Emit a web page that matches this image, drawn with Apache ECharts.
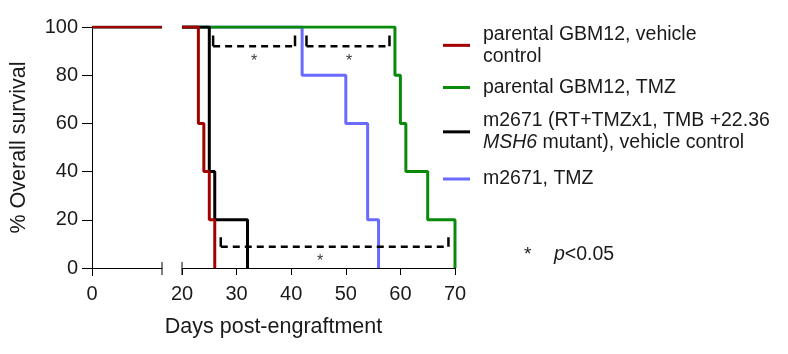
<!DOCTYPE html>
<html>
<head>
<meta charset="utf-8">
<script src="https://cdn.jsdelivr.net/npm/echarts@6/dist/echarts.min.js"></script>
<style>
    html, body { margin: 0; padding: 0; background: #fff; }
    #main { width: 788px; height: 354px; }
</style>
</head>
<body>
<div id="main"></div>
<script>
    var FONT = 'Liberation Sans, Arial, sans-serif';
    var TXT = '#1a1a1a';

    var names = [
        'parental GBM12, vehicle control',
        'parental GBM12, TMZ',
        'm2671 (RT+TMZx1, TMB +22.36 MSH6 mutant), vehicle control',
        'm2671, TMZ'
    ];
    var colors = ['#a30000', '#0a8a0a', '#000000', '#6a6aff'];

    // Kaplan-Meier steps [day, % survival], right segment (20-70)
    var parentalVehicle = [[20, 100], [23, 60], [24, 40], [25, 20], [26, 0]];
    var parentalTMZ     = [[20, 100], [59, 80], [60, 60], [61, 40], [65, 20], [70, 0]];
    var mutantVehicle   = [[20, 100], [25, 40], [26, 20], [32, 0]];
    var mutantTMZ       = [[20, 100], [42, 80], [50, 60], [54, 20], [56, 0]];
    // left segment, everyone alive
    var earlyDays = [0, 13];
    var earlySurvival = [100, 100];

    // significance brackets: [x start, x end, y of dashed line, y of cap end]
    var brackets = [[25.7, 40.7, 92, 96.5], [42.8, 58, 92, 96.5], [27.1, 68.8, 8.8, 12.8]];
    var stars = [[33.2, 85.6], [50.6, 85.6], [45.3, 2.8]];

    var yTicks = [0, 20, 40, 60, 80, 100];

    var chart = echarts.init(document.getElementById('main'));

    var dashData = [], capData = [];
    brackets.forEach(function (b) {
        dashData.push([b[0], b[2]], [b[1], b[2]], '-');
        capData.push([b[0], b[3]], [b[0], b[2]], '-', [b[1], b[2]], [b[1], b[3]], '-');
    });

    var curves = [parentalVehicle, parentalTMZ, mutantVehicle, mutantTMZ];
    var drawOrder = [3, 1, 2, 0]; // red on top
    var series = [];
    drawOrder.forEach(function (i) {
        series.push({
            name: names[i], type: 'line', xAxisIndex: 0, yAxisIndex: 0,
            data: earlyDays.map(function (d, k) { return [d, earlySurvival[k]]; }),
            showSymbol: false, symbol: 'none', silent: true,
            lineStyle: { color: colors[i], width: 2.5 }, itemStyle: { color: colors[i] }
        });
    });
    drawOrder.forEach(function (i) {
        series.push({
            name: names[i], type: 'line', xAxisIndex: 1, yAxisIndex: 1,
            data: curves[i], step: 'end', showSymbol: false, symbol: 'none', silent: true,
            lineStyle: { color: colors[i], width: 3 }, itemStyle: { color: colors[i] }
        });
    });
    series.push({
        name: 'sig', type: 'line', xAxisIndex: 1, yAxisIndex: 1, data: dashData,
        showSymbol: false, symbol: 'none', silent: true, z: 5,
        lineStyle: { color: '#000', width: 2.5, type: [7, 5] }
    });
    series.push({
        name: 'sigcap', type: 'line', xAxisIndex: 1, yAxisIndex: 1, data: capData,
        showSymbol: false, symbol: 'none', silent: true, z: 5,
        lineStyle: { color: '#000', width: 2.5 }
    });
    series.push({
        name: 'star', type: 'scatter', xAxisIndex: 1, yAxisIndex: 1, data: stars,
        symbolSize: 0, silent: true, z: 6,
        label: { show: true, position: 'inside', formatter: '*', color: '#000', fontSize: 16, fontFamily: FONT }
    });

    var richLegend = {
        n: { fontSize: 19.5, fontFamily: FONT, color: TXT, lineHeight: 21.7 },
        i: { fontSize: 19.5, fontFamily: FONT, color: TXT, lineHeight: 21.7, fontStyle: 'italic' }
    };
    var legendText = {};
    legendText[names[0]] = '{n|parental GBM12, vehicle}\n{n|control}';
    legendText[names[1]] = '{n|parental GBM12, TMZ}';
    legendText[names[2]] = '{n|m2671 (RT+TMZx1, TMB +22.36}\n{i|MSH6}{n| mutant), vehicle control}';
    legendText[names[3]] = '{n|m2671, TMZ}';
    var legendTops = [24.5, 77.5, 111, 169];

    var option = {
        backgroundColor: '#fff',
        animation: false,
        legend: names.map(function (n, i) {
            return {
                data: [n], left: 443, top: legendTops[i], padding: 0,
                icon: 'rect', itemWidth: 27, itemHeight: 3, selectedMode: false,
                formatter: function (name) { return legendText[name]; },
                textStyle: { padding: [0, 0, 0, 8], rich: richLegend }
            };
        }),
        grid: [
            { left: 92, right: 626, top: 27, bottom: 86 },
            { left: 182, right: 333, top: 27, bottom: 86 }
        ],
        xAxis: [{
            type: 'value', gridIndex: 0, min: 0, max: 13,
            splitLine: { show: false },
            axisLine: { show: true, lineStyle: { color: '#000', width: 1 } },
            axisTick: { show: true, length: 8, customValues: [0], lineStyle: { color: '#000' } },
            axisLabel: { customValues: [0], margin: 16, fontSize: 20, fontFamily: FONT, color: TXT }
        }, {
            type: 'value', gridIndex: 1, min: 20, max: 70, interval: 10,
            splitLine: { show: false },
            axisLine: { show: true, lineStyle: { color: '#000', width: 1 } },
            axisTick: { show: true, length: 7, lineStyle: { color: '#000' } },
            axisLabel: { margin: 16, fontSize: 20, fontFamily: FONT, color: TXT }
        }],
        yAxis: [{
            type: 'value', gridIndex: 0, min: 0, max: 100, interval: 20,
            name: '% Overall survival', nameLocation: 'middle', nameGap: 62,
            nameTextStyle: { fontSize: 21.5, fontFamily: FONT, color: TXT },
            splitLine: { show: false },
            axisLine: { show: true, lineStyle: { color: '#000', width: 1 } },
            axisTick: { show: true, length: 10, lineStyle: { color: '#000' } },
            axisLabel: { margin: 14, fontSize: 20, fontFamily: FONT, color: TXT,
                formatter: function (v) { return yTicks.indexOf(v) >= 0 ? v : ''; } }
        }, {
            type: 'value', gridIndex: 1, min: 0, max: 100, interval: 20, show: false
        }],
        series: series
    };
    chart.setOption(option);

    // axis break caps and captions
    var breakEnd = chart.convertToPixel({ xAxisIndex: 0 }, 13);
    var breakStart = chart.convertToPixel({ xAxisIndex: 1 }, 20);
    var axisY = chart.convertToPixel({ yAxisIndex: 0 }, 0);
    var axisMid = (chart.convertToPixel({ xAxisIndex: 0 }, 0) + chart.convertToPixel({ xAxisIndex: 1 }, 70)) / 2;
    chart.setOption({
        graphic: [
            { type: 'line', shape: { x1: breakEnd, y1: axisY - 6, x2: breakEnd, y2: axisY + 7 }, style: { stroke: '#000', lineWidth: 1 } },
            { type: 'line', shape: { x1: breakStart, y1: axisY - 6, x2: breakStart, y2: axisY + 7 }, style: { stroke: '#000', lineWidth: 1 } },
            { type: 'text', x: axisMid, y: 327, style: { text: 'Days post-engraftment', font: '21.5px ' + FONT, fill: TXT, align: 'center', verticalAlign: 'middle' } },
            { type: 'text', x: 524, y: 255, style: {
                text: '{s|*}{p|p}{n|<0.05}', verticalAlign: 'middle',
                rich: {
                    s: { fontSize: 19, fontFamily: FONT, fill: TXT, width: 30, verticalAlign: 'top' },
                    p: { fontSize: 19.5, fontFamily: FONT, fill: TXT, fontStyle: 'italic' },
                    n: { fontSize: 19.5, fontFamily: FONT, fill: TXT }
                }
            } }
        ]
    });
</script>
</body>
</html>
